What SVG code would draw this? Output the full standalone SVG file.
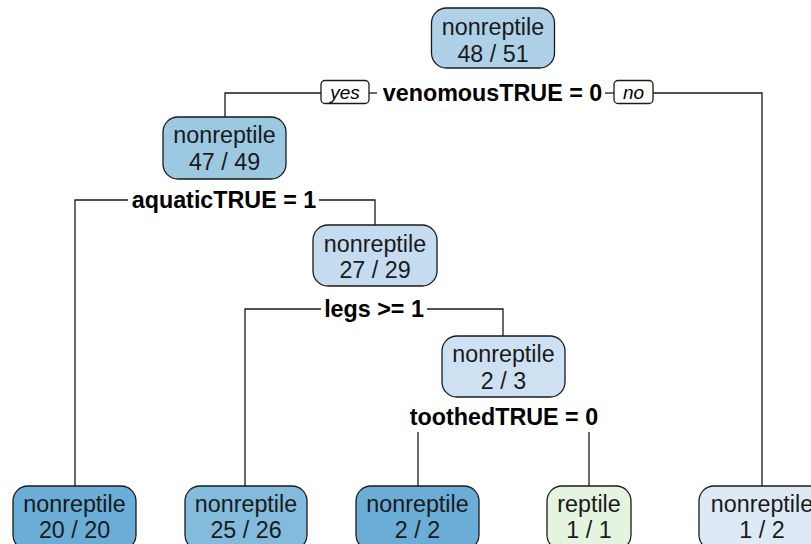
<svg xmlns="http://www.w3.org/2000/svg" width="811" height="544" viewBox="0 0 811 544">
  <style>
    .box { stroke: #1a1a1a; stroke-width: 1.3; }
    .lbl { font-family: "Liberation Sans", Arial, sans-serif; font-size: 23.3px; fill: #1a1a1a; text-anchor: middle; }
    .split { font-family: "Liberation Sans", Arial, sans-serif; font-size: 23.3px; font-weight: bold; fill: #000; text-anchor: middle; }
    .yn { font-family: "Liberation Sans", Arial, sans-serif; font-size: 19px; font-style: italic; fill: #000; text-anchor: middle; }
    .edge { fill: none; stroke: #1a1a1a; stroke-width: 1.3; }
  </style>
  <rect width="811" height="544" fill="#ffffff"/>

  <!-- connectors -->
  <g id="connectors">
    <!-- root split -->
    <polyline class="edge" points="225,117 225,93 321,93"/>
    <line class="edge" x1="369" y1="93" x2="377" y2="93"/>
    <line class="edge" x1="605" y1="93" x2="614" y2="93"/>
    <polyline class="edge" points="653,93 762,93 762,486"/>
    <rect class="edge" x="321" y="80.5" width="48" height="23" rx="4"/>
    <rect class="edge" x="614" y="80.5" width="39" height="23" rx="4"/>
    <text class="yn" x="345" y="99">yes</text>
    <text class="yn" x="633.5" y="99">no</text>
    <text class="split" x="492.5" y="101">venomousTRUE = 0</text>
    <!-- aquatic split -->
    <polyline class="edge" points="75,486 75,200 128,200"/>
    <polyline class="edge" points="319,200 375,200 375,225"/>
    <text class="split" x="224" y="208">aquaticTRUE = 1</text>
    <!-- legs split -->
    <polyline class="edge" points="245,486 245,309 321,309"/>
    <polyline class="edge" points="427,309 503,309 503,336"/>
    <text class="split" x="374" y="317">legs &gt;= 1</text>
    <!-- toothed split -->
    <line class="edge" x1="418" y1="432" x2="418" y2="486"/>
    <line class="edge" x1="589" y1="432" x2="589" y2="486"/>
    <text class="split" x="504" y="425">toothedTRUE = 0</text>
  </g>

  <g id="node-root">
    <rect class="box" x="431.5" y="8" width="123" height="60" rx="15" fill="#AED1E7"/>
    <text class="lbl" x="493" y="35">nonreptile</text>
    <text class="lbl" x="493" y="62">48 / 51</text>
  </g>
  <g id="node-venomous-yes">
    <rect class="box" x="163" y="117" width="123" height="62" rx="15" fill="#9DC8E1"/>
    <text class="lbl" x="224.5" y="143">nonreptile</text>
    <text class="lbl" x="224.5" y="170">47 / 49</text>
  </g>
  <g id="node-aquatic-no">
    <rect class="box" x="313" y="225" width="124" height="61" rx="15" fill="#C5DBEF"/>
    <text class="lbl" x="375" y="252">nonreptile</text>
    <text class="lbl" x="375" y="278">27 / 29</text>
  </g>
  <g id="node-legs-no">
    <rect class="box" x="442" y="336" width="123" height="61" rx="15" fill="#CEE1F2"/>
    <text class="lbl" x="503.5" y="362">nonreptile</text>
    <text class="lbl" x="503.5" y="389">2 / 3</text>
  </g>

  <g id="leaf-1">
    <rect class="box" x="13" y="486" width="123" height="64" rx="15" fill="#6AADD6"/>
    <text class="lbl" x="74.5" y="512">nonreptile</text>
    <text class="lbl" x="74.5" y="538">20 / 20</text>
  </g>
  <g id="leaf-2">
    <rect class="box" x="185" y="486" width="122" height="64" rx="15" fill="#82BBDC"/>
    <text class="lbl" x="246" y="512">nonreptile</text>
    <text class="lbl" x="246" y="538">25 / 26</text>
  </g>
  <g id="leaf-3">
    <rect class="box" x="356" y="486" width="123" height="64" rx="15" fill="#6AADD6"/>
    <text class="lbl" x="417.5" y="512">nonreptile</text>
    <text class="lbl" x="417.5" y="538">2 / 2</text>
  </g>
  <g id="leaf-4">
    <rect class="box" x="547" y="486" width="84" height="64" rx="15" fill="#E4F4DF"/>
    <text class="lbl" x="589" y="512">reptile</text>
    <text class="lbl" x="589" y="538">1 / 1</text>
  </g>
  <g id="leaf-5">
    <rect class="box" x="699" y="486" width="126" height="64" rx="15" fill="#DDEAF6"/>
    <text class="lbl" x="762" y="512">nonreptile</text>
    <text class="lbl" x="762" y="538">1 / 2</text>
  </g>
</svg>
